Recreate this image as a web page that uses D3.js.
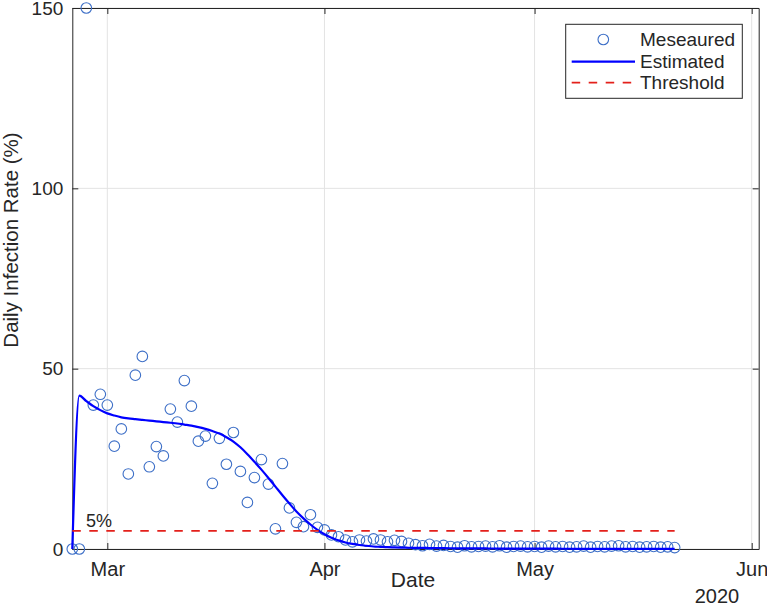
<!DOCTYPE html>
<html>
<head>
<meta charset="utf-8">
<script src="https://cdn.jsdelivr.net/npm/d3@7"></script>
<style>
  html, body { margin: 0; padding: 0; background: #ffffff; }
  svg { display: block; }
  text { font-family: "Liberation Sans", Arial, Helvetica, sans-serif; fill: #262626; }
</style>
</head>
<body>
<svg id="chart" width="767" height="608"></svg>
<script>
// ---------- DATA ----------
const startDate = "2020-02-25";
const measured = [
  0, 0, 150, 39.9, 42.9, 39.9, 28.5, 33.3, 20.8, 48.2,
  53.4, 22.8, 28.4, 25.8, 38.8, 35.2, 46.7, 39.6, 29.9, 31.3,
  18.2, 30.7, 23.5, 32.3, 21.5, 12.9, 19.8, 24.8, 18.0, 5.6,
  23.7, 11.4, 7.4, 6.2, 9.5, 6.0, 5.3, 3.9, 3.4, 2.5,
  2.0, 2.5, 2.2, 2.8, 2.5, 2.0, 2.4, 2.1, 1.6, 1.2,
  0.9, 1.3, 0.8, 1.0, 0.7, 0.5, 0.9, 0.6, 0.7, 0.8,
  0.6, 0.9, 0.5, 0.7, 0.8, 0.6, 0.7, 0.5, 0.8, 0.6,
  0.7, 0.5, 0.6, 0.8, 0.5, 0.7, 0.6, 0.8, 0.9, 0.6,
  0.7, 0.5, 0.6, 0.7, 0.5, 0.6, 0.4
];
const estimated = [
  0, 42.5, 41.0, 39.6, 38.5, 37.6, 37.0, 36.5, 36.2, 36.0,
  35.8, 35.6, 35.4, 35.2, 35.0, 34.8, 34.5, 34.2, 33.8, 33.3,
  32.7, 32.0, 31.0, 29.8, 28.2, 26.3, 24.2, 22.0, 19.7, 17.3,
  14.9, 12.6, 10.4, 8.5, 6.8, 5.3, 4.1, 3.1, 2.4, 1.8,
  1.4, 1.1, 0.9, 0.7, 0.6, 0.5, 0.45, 0.4, 0.35, 0.32,
  0.3, 0.27, 0.25, 0.23, 0.21, 0.19, 0.18, 0.17, 0.16, 0.15,
  0.14, 0.13, 0.12, 0.11, 0.1, 0.1, 0.09, 0.09, 0.08, 0.08,
  0.07, 0.07, 0.06, 0.06, 0.06, 0.05, 0.05, 0.05, 0.04, 0.04,
  0.04, 0.04, 0.03, 0.03, 0.03, 0.03, 0.03
];
const threshold = 5;
const xTickDates = ["2020-03-01", "2020-04-01", "2020-05-01", "2020-06-01"];
const xTickLabels = ["Mar", "Apr", "May", "Jun"];
const yTicks = [0, 50, 100, 150];
const legendLabels = ["Meseaured", "Estimated", "Threshold"];

// ---------- SETUP ----------
const parse = d3.utcParse("%Y-%m-%d");
const t0 = parse(startDate);
const dayDate = i => d3.utcDay.offset(t0, i);

const svg = d3.select("#chart");
const mLeft = 72.3, mRight = 758.7, mTop = 8, mBottom = 549;

const x = d3.scaleUtc()
  .domain([parse("2020-02-25"), parse("2020-06-02")])
  .range([mLeft, mRight]);
const y = d3.scaleLinear().domain([0, 150]).range([mBottom, mTop]);

const axisColor = "#262626";
const gridColor = "#e3e3e3";
const circleColor = "#3d6fc7";
const lineColor = "#0000ff";
const redColor = "#e3201b";
const fontFam = '"Liberation Sans", Arial, sans-serif';

// Grid
const g = svg.append("g");
g.selectAll(".vgrid").data(xTickDates).enter().append("line")
  .attr("x1", d => x(parse(d))).attr("x2", d => x(parse(d)))
  .attr("y1", mTop).attr("y2", mBottom)
  .attr("stroke", gridColor).attr("stroke-width", 1);
g.selectAll(".hgrid").data(yTicks).enter().append("line")
  .attr("x1", mLeft).attr("x2", mRight)
  .attr("y1", d => y(d)).attr("y2", d => y(d))
  .attr("stroke", gridColor).attr("stroke-width", 1);

// Axes via d3 axis
const xAxis = d3.axisBottom(x)
  .tickValues(xTickDates.map(parse))
  .tickFormat((d, i) => xTickLabels[i])
  .tickSizeInner(-6).tickSizeOuter(0).tickPadding(13);
const xg = svg.append("g").attr("transform", `translate(0,${mBottom})`).call(xAxis);
xg.select(".domain").attr("stroke", axisColor);
xg.selectAll(".tick line").attr("stroke", axisColor);
xg.selectAll(".tick text").attr("font-size", 20).attr("fill", axisColor)
  .attr("font-family", fontFam);

const yAxis = d3.axisLeft(y).tickValues(yTicks)
  .tickSizeInner(-6).tickSizeOuter(0).tickPadding(9);
const yg = svg.append("g").attr("transform", `translate(${mLeft},0)`).call(yAxis);
yg.select(".domain").attr("stroke", axisColor);
yg.selectAll(".tick line").attr("stroke", axisColor);
yg.selectAll(".tick text").attr("font-size", 19).attr("fill", axisColor)
  .attr("font-family", fontFam);

// top and right box edges with ticks
const xTopAxis = d3.axisTop(x).tickValues(xTickDates.map(parse)).tickFormat("")
  .tickSizeInner(-6).tickSizeOuter(0);
const xtg = svg.append("g").attr("transform", `translate(0,${mTop})`).call(xTopAxis);
xtg.select(".domain").attr("stroke", axisColor);
xtg.selectAll(".tick line").attr("stroke", axisColor);
const yRightAxis = d3.axisRight(y).tickValues(yTicks).tickFormat("")
  .tickSizeInner(-6).tickSizeOuter(0);
const yrg = svg.append("g").attr("transform", `translate(${mRight},0)`).call(yRightAxis);
yrg.select(".domain").attr("stroke", axisColor);
yrg.selectAll(".tick line").attr("stroke", axisColor);

// Axis labels
svg.append("text").attr("x", 413).attr("y", 587)
  .attr("text-anchor", "middle").attr("font-size", 21).text("Date");
svg.append("text").attr("x", 717).attr("y", 603)
  .attr("text-anchor", "middle").attr("font-size", 20).text("2020");
svg.append("text")
  .attr("transform", `translate(18,240) rotate(-90)`)
  .attr("text-anchor", "middle").attr("font-size", 20.5).text("Daily Infection Rate (%)");

// Measured circles
svg.append("g").selectAll("circle").data(measured).enter().append("circle")
  .attr("cx", (d, i) => x(dayDate(i)))
  .attr("cy", d => y(d))
  .attr("r", 5.3)
  .attr("fill", "none")
  .attr("stroke", circleColor)
  .attr("stroke-width", 1.1);

// Estimated line
const line = d3.line().x((d, i) => x(dayDate(i))).y(d => y(d)).curve(d3.curveMonotoneX);
svg.append("path").datum(estimated).attr("d", line)
  .attr("fill", "none").attr("stroke", lineColor).attr("stroke-width", 2.2);

// Threshold
svg.append("line")
  .attr("x1", x(dayDate(0))).attr("x2", x(dayDate(measured.length - 1)))
  .attr("y1", y(threshold)).attr("y2", y(threshold))
  .attr("stroke", redColor).attr("stroke-width", 1.8)
  .attr("stroke-dasharray", "8.5,8.5");

svg.append("text").attr("x", 86).attr("y", 527).attr("font-size", 18).text(threshold + "%");

// Legend
const lg = svg.append("g");
lg.append("rect").attr("x", 565.7).attr("y", 24.3).attr("width", 176.6).attr("height", 74)
  .attr("fill", "#ffffff").attr("stroke", "#262626").attr("stroke-width", 1);
const rows = [39.5, 61.7, 82.7];
lg.append("circle").attr("cx", 603.3).attr("cy", rows[0]).attr("r", 5.3)
  .attr("fill", "none").attr("stroke", circleColor).attr("stroke-width", 1.1);
lg.append("line").attr("x1", 571.7).attr("x2", 635).attr("y1", rows[1]).attr("y2", rows[1])
  .attr("stroke", lineColor).attr("stroke-width", 2.2);
lg.append("line").attr("x1", 571.7).attr("x2", 635).attr("y1", rows[2]).attr("y2", rows[2])
  .attr("stroke", redColor).attr("stroke-width", 1.8).attr("stroke-dasharray", "8.5,8.5");
lg.selectAll(".lt").data(legendLabels).enter().append("text")
  .attr("x", 640).attr("y", (d, i) => rows[i] + 6.5)
  .attr("font-size", 19).text(d => d);
</script>
</body>
</html>
